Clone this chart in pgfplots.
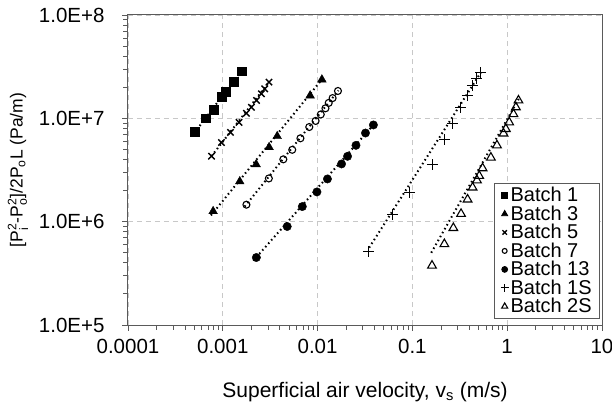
\documentclass[border=0pt]{standalone}
\usepackage{pgfplots}
\pgfplotsset{compat=1.18}
\usepackage{amsmath}
\usepackage{fontspec}
\setmainfont{Liberation Sans}
\definecolor{gridc}{RGB}{200,200,200}
\definecolor{framec}{RGB}{90,90,90}
\begin{document}
\begin{tikzpicture}
\begin{axis}[
  scale only axis,
  width=474pt, height=310pt,
  xmode=log, ymode=log,
  xmin=1e-4, xmax=10, ymin=1e5, ymax=1e8,
  xtick={1e-4,1e-3,1e-2,1e-1,1,10},
  xticklabels={0.0001,0.001,0.01,0.1,1,10},
  ytick={1e5,1e6,1e7,1e8},
  yticklabels={1.0E+5,1.0E+6,1.0E+7,1.0E+8},
  tick label style={font=\fontsize{20.5}{22}\selectfont},
  xtick pos=bottom, ytick pos=left,
  tick align=outside,
  major tick length=6pt, minor tick length=5pt,
  every tick/.style={framec, line width=0.8pt},
  axis line style={framec, line width=1pt},
  xmajorgrids, ymajorgrids,
  major grid style={gridc, dashed, dash pattern=on 5pt off 4pt, line width=0.8pt},
  xlabel={Superficial air velocity, v$_{\text{s}}$ (m/s)},
  ylabel={[P$^{\text{2}}_{\text{i}}$-P$^{\text{2}}_{\text{o}}$]/2P$_{\text{o}}$L (Pa/m)},
  xlabel style={font=\fontsize{21}{23}\selectfont, yshift=-21pt},
  ylabel style={font=\fontsize{17.5}{19}\selectfont, yshift=4pt},
  yticklabel style={xshift=-14pt},
  xticklabel style={yshift=-5pt},
  legend style={at={(rel axis cs:0.996,0.02)}, anchor=south east,
    draw=framec, line width=0.8pt, font=\fontsize{20}{21}\selectfont,
    row sep=-1.5pt, inner xsep=6pt, inner ysep=2pt},
  legend cell align=left,
  legend image post style={scale=0.7},
  trend/.style={black, line width=2pt, dash pattern=on 1.5pt off 3pt, forget plot, mark=none},
]
% trendlines
\addplot[trend] coordinates {(5.0e-4,7.2e6) (1.6e-3,2.95e7)};
\addplot[trend] coordinates {(7.5e-4,1.15e6) (1.12e-2,2.4e7)};
\addplot[trend] coordinates {(7.6e-4,4.3e6) (3.07e-3,2.24e7)};
\addplot[trend] coordinates {(1.7e-3,1.4e6) (1.66e-2,1.86e7)};
\addplot[trend] coordinates {(2.1e-3,4.2e5) (3.95e-2,8.8e6)};
\addplot[trend] coordinates {(3.5e-2,5.6e5) (0.53,2.8e7)};
\addplot[trend] coordinates {(0.158,5.0e5) (1.33,1.55e7)};
% data
\addplot[only marks, mark=square*, mark size=4.3pt, black] coordinates {
(5.07e-4,7.47e6) (6.62e-4,1.00e7) (8.04e-4,1.22e7) (9.75e-4,1.63e7)
(1.076e-3,1.81e7) (1.31e-3,2.26e7) (1.585e-3,2.86e7)};
\addlegendentry{Batch 1}
\addplot[only marks, mark=triangle*, mark size=5pt, black] coordinates {
(7.91e-4,1.26e6) (1.51e-3,2.45e6) (2.25e-3,3.58e6) (3.08e-3,5.25e6)
(3.75e-3,6.71e6) (8.34e-3,1.66e7) (1.11e-2,2.37e7)};
\addlegendentry{Batch 3}
\addplot[only marks, mark=x, mark size=4.5pt, black, line width=1.4pt] coordinates {
(7.60e-4,4.30e6) (9.68e-4,5.84e6) (1.205e-3,7.31e6) (1.485e-3,9.14e6)
(1.775e-3,1.12e7) (2.005e-3,1.28e7) (2.265e-3,1.49e7) (2.555e-3,1.73e7)
(2.77e-3,1.93e7) (3.07e-3,2.24e7)};
\addlegendentry{Batch 5}
\addplot[only marks, mark=o, mark size=3.5pt, black, line width=1.1pt] coordinates {
(1.775e-3,1.46e6) (3.06e-3,2.62e6) (4.35e-3,4.01e6) (5.40e-3,4.96e6)
(6.59e-3,6.41e6) (8.17e-3,8.24e6) (9.53e-3,9.44e6) (1.08e-2,1.09e7)
(1.21e-2,1.25e7) (1.31e-2,1.41e7) (1.44e-2,1.57e7) (1.64e-2,1.84e7)};
\addlegendentry{Batch 7}
\addplot[only marks, mark=*, mark size=4.2pt, black] coordinates {
(2.26e-3,4.50e5) (4.78e-3,8.98e5) (6.90e-3,1.40e6) (9.84e-3,1.94e6)
(1.27e-2,2.59e6) (1.79e-2,3.62e6) (2.07e-2,4.29e6) (2.54e-2,5.48e6)
(3.20e-2,7.21e6) (3.88e-2,8.63e6)};
\addlegendentry{Batch 13}
\addplot[only marks, mark=+, mark size=5.5pt, black, line width=1pt] coordinates {
(3.47e-2,5.15e5) (6.24e-2,1.17e6) (9.29e-2,1.93e6) (0.1626,3.54e6)
(0.2188,6.18e6) (0.2667,8.94e6) (0.3245,1.285e7) (0.3793,1.66e7)
(0.4285,2.06e7) (0.4754,2.42e7) (0.528,2.75e7)};
\addlegendentry{Batch 1S}
\addplot[only marks, mark=triangle, mark size=5pt, black, line width=1.1pt] coordinates {
(0.161,3.76e5) (0.2173,6.07e5) (0.2704,8.69e5) (0.326,1.19e6)
(0.382,1.64e6) (0.4315,2.14e6) (0.48,2.51e6) (0.507,2.77e6)
(0.55,3.29e6) (0.673,4.17e6) (0.78,5.48e6) (0.914,7.14e6)
(0.968,7.89e6) (1.05,9.14e6) (1.164,1.10e7) (1.236,1.28e7) (1.315,1.49e7)};
\addlegendentry{Batch 2S}
\end{axis}
\pgfresetboundingbox
\path ([shift={(-128pt,-82pt)}]current axis.south west) rectangle ([shift={(10pt,15pt)}]current axis.north east);
\end{tikzpicture}
\end{document}
